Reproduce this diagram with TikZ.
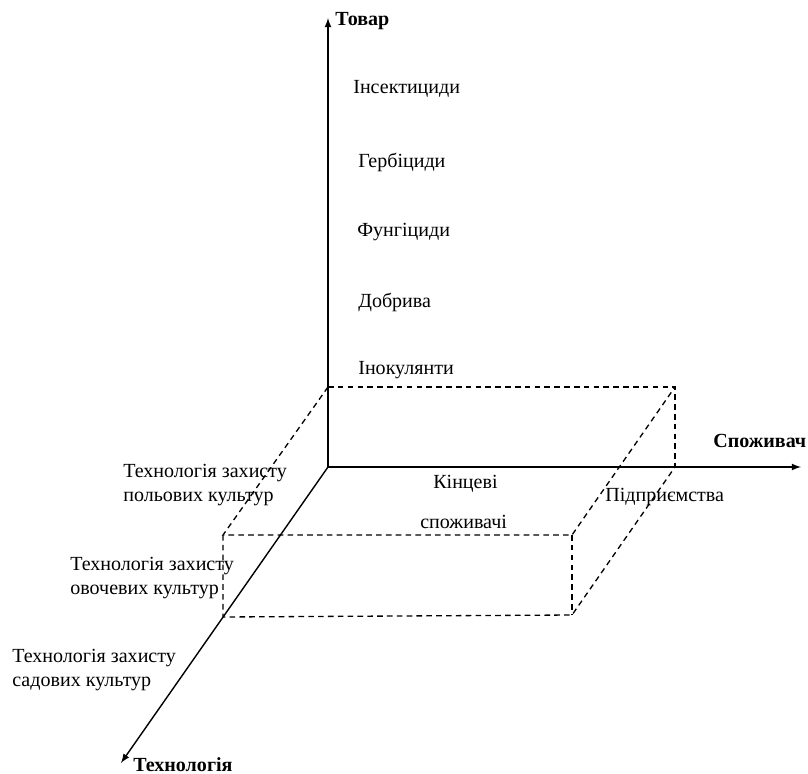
\documentclass[tikz,border=0pt]{standalone}
\usepackage{fontspec}
\setmainfont{Liberation Serif}
\usetikzlibrary{arrows}

\begin{document}
\begin{tikzpicture}[x=0.02cm,y=-0.02cm,
  font=\fontsize{11.4}{14.2}\selectfont,
  axis/.style={line width=0.8pt,-latex},
  grid/.style={line width=0.75pt,dash pattern=on 3.2pt off 2.4pt},
  lbl/.style={anchor=west,inner sep=0pt,align=left}]
\useasboundingbox(0,0) rectangle (808,774);
% axes
\coordinate(O) at (328,467);
\coordinate(Y) at (328,18);
\coordinate(X) at (801,467);
\coordinate(Z) at (121,763);
\draw[axis](O)--(Y);
\draw[axis](O)--(X);
\draw[axis](O)--(Z);
\node[lbl,font=\fontsize{11.4}{14}\selectfont\bfseries](ytitle) at (335,21){Товар};
\node[lbl,font=\fontsize{11.4}{14}\selectfont\bfseries](xtitle) at (713,441){Споживач};
\node[lbl,font=\fontsize{11.4}{14}\selectfont\bfseries](ztitle) at (133,765){Технологія};
%
% dashed box
\coordinate(A) at (328,387);
\coordinate(B) at (675,387);
\coordinate(C) at (675,467);
\coordinate(F) at (223,535);
\coordinate(E) at (572,535);
\coordinate(D) at (572,615);
\coordinate(G) at (223,617);
\draw[grid](A)--(B)--(C);
\draw[grid](A)--(F)--(E)--(B);
\draw[grid](F)--(G)--(D)--(C);
\draw[grid](E)--(D);
%
% goods
\node[lbl](g1) at (353,89){Інсектициди};
\node[lbl](g2) at (358,162){Гербіциди};
\node[lbl](g3) at (357,232){Фунгіциди};
\node[lbl](g4) at (358,302){Добрива};
\node[lbl](g5) at (358,370){Інокулянти};
%
% consumers
\node[lbl](c1) at (433,484){Кінцеві};
\node[lbl](c2) at (420,522){споживачі};
\node[lbl](c3) at (605,497){Підприємства};
%
% technologies
\node[lbl](t1) at (123,485){Технологія захисту\\польових культур};
\node[lbl](t2) at (70,578){Технологія захисту\\овочевих культур};
\node[lbl](t3) at (12,670){Технологія захисту\\садових культур};
\end{tikzpicture}
\end{document}
